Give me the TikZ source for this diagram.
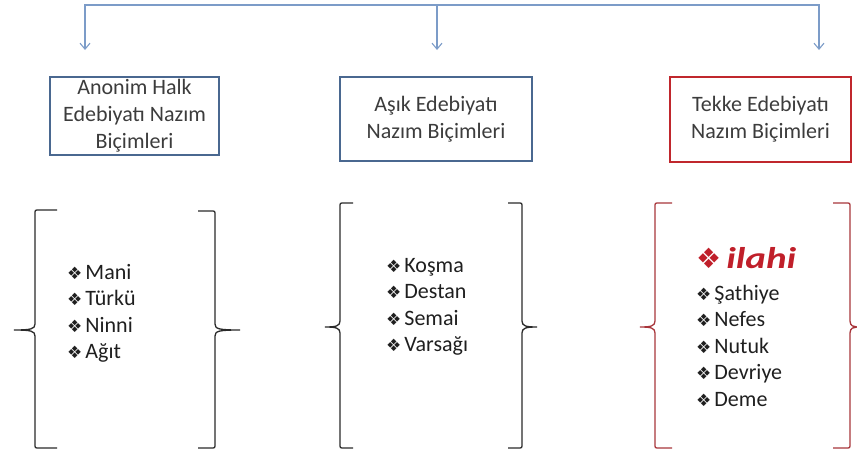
\documentclass[tikz,border=0pt]{standalone}
\usepackage{fontspec}
\setmainfont{Carlito}
\newfontfamily\symfont{DejaVu Sans}
\newfontfamily\widefont[FakeStretch=1.3]{Carlito}
\usetikzlibrary{arrows.meta}
\definecolor{boxblue}{HTML}{4A6890}
\definecolor{arrowblue}{HTML}{7C9CC8}
\definecolor{boxred}{HTML}{C0272D}
\definecolor{ilahired}{HTML}{C01F2A}
\definecolor{txtgray}{HTML}{3C3C3C}
\definecolor{bracered}{HTML}{A8353A}
\definecolor{braceblack}{HTML}{2A2A2A}
\newcommand{\bul}{{\symfont\mdseries\upshape\fontsize{17}{17}\selectfont ❖}\hspace{3pt}}
\newcommand{\bigbul}{{\symfont\mdseries\upshape\fontsize{28}{28}\selectfont ❖}\hspace{5pt}}
% #1 x of vertical, #2 x of tip, #3 x of ends, #4 top y, #5 mid y, #6 bottom y, #7 side sign
\newcommand{\brk}[7]{%
  \draw[brace] (#3,#4) -- ({#1+4*#7},#4) .. controls (#1,#4) .. (#1,{#4+4})
    -- (#1,{#5-6}) .. controls (#1,{#5-1}) and ({#1-4*#7},#5) .. (#2,#5)
    .. controls ({#1-4*#7},#5) and (#1,{#5+1}) .. (#1,{#5+6})
    -- (#1,{#6-4}) .. controls (#1,#6) .. ({#1+4*#7},#6) -- (#3,#6);}
\tikzset{
  hbox/.style={draw=boxblue, line width=1.8pt, align=center, inner sep=0pt,
    text=txtgray, font=\fontsize{22}{27}\selectfont},
  conn/.style={draw=arrowblue, line width=1.1pt},
  tipb/.tip={Straight Barb[length=6pt,width=10pt]},
  brace/.style={line width=1.3pt},
  item/.style={anchor=base west, inner sep=0pt, text=black!88,
    font=\fontsize{22}{26}\selectfont},
  ilahi/.style={anchor=base west, inner sep=0pt, text=ilahired,
    font=\widefont\fontsize{30}{30}\selectfont\bfseries\itshape}
}
\begin{document}
\begin{tikzpicture}[x=1pt,y=-1pt]
\useasboundingbox (0,0) rectangle (857,455);
% heading boxes
\node[hbox, minimum width=169pt, minimum height=78pt] (b1) at (134.5,116)
  {Anonim Halk\\Edebiyatı Nazım\\Biçimleri};
\node[hbox, minimum width=192pt, minimum height=84pt] (b2) at (436,119)
  {Aşık Edebiyatı\\Nazım Biçimleri};
\node[hbox, draw=boxred, minimum width=181pt, minimum height=85pt] (b3) at (760.5,119.5)
  {Tekke Edebiyatı\\Nazım Biçimleri};
% top connectors
\coordinate (tl) at (85,5);
\coordinate (tm) at (437,5);
\coordinate (tr) at (819,5);
\coordinate (e1) at (85,50);
\coordinate (e2) at (437,50);
\coordinate (e3) at (819,50);
\draw[conn, tipb-tipb] (e1) -- (tl) -- (tr) -- (e3);
\draw[conn, -tipb] (tm) -- (e2);
% braces
\begin{scope}[color=braceblack]
\brk{35}{14}{57}{210}{330}{448}{1}
\brk{215}{240}{198}{211}{330}{448}{-1}
\brk{340}{325}{353}{203}{327}{448}{1}
\brk{522}{537}{508}{203}{327}{448}{-1}
\end{scope}
\begin{scope}[color=bracered]
\brk{655}{640}{672}{203}{327}{448}{1}
\brk{850}{857}{833}{203}{327}{448}{-1}
\end{scope}
% lists
\node[item] (l11) at (67,279) {\bul Mani};
\node[item] (l12) at (67,305.5) {\bul Türkü};
\node[item] (l13) at (67,332) {\bul Ninni};
\node[item] (l14) at (67,358.5) {\bul Ağıt};
\node[item] (l21) at (386,272) {\bul Koşma};
\node[item] (l22) at (386,298.5) {\bul Destan};
\node[item] (l23) at (386,325) {\bul Semai};
\node[item] (l24) at (386,351.5) {\bul Varsağı};
\node[ilahi] (l30) at (696,268) {\bigbul ilahi};
\node[item] (l31) at (696,300) {\bul Şathiye};
\node[item] (l32) at (696,326.5) {\bul Nefes};
\node[item] (l33) at (696,353) {\bul Nutuk};
\node[item] (l34) at (696,379.5) {\bul Devriye};
\node[item] (l35) at (696,406) {\bul Deme};
\end{tikzpicture}
\end{document}
